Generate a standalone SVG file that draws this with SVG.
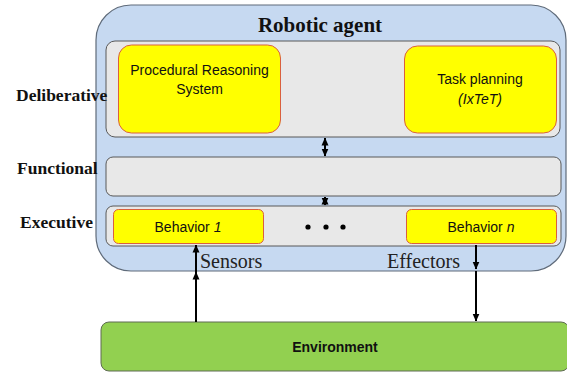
<svg xmlns="http://www.w3.org/2000/svg" width="567" height="374" viewBox="0 0 567 374">
  <defs>
    <marker id="tip" viewBox="0 0 8 8" refX="7.5" refY="4" markerWidth="8" markerHeight="8" markerUnits="userSpaceOnUse" orient="auto-start-reverse">
      <path d="M0,0.5 L8,4 L0,7.5 Z" fill="#000"/>
    </marker>
    <style>
      .agent { fill: #c6d9f1; stroke: #5f6b7a; stroke-width: 1.2; }
      .layer { fill: #e8e8e8; stroke: #595959; stroke-width: 1; }
      .comp { fill: #ffff00; stroke: #d9603f; stroke-width: 1; }
      .env { fill: #92d050; stroke: #5e6b52; stroke-width: 1; }
      .layername { font-family: "Liberation Serif", "Times New Roman", serif; font-weight: bold; font-size: 17.5px; fill: #111; }
      .title { font-family: "Liberation Serif", "Times New Roman", serif; font-weight: bold; font-size: 21px; fill: #111; }
      .io { font-family: "Liberation Serif", "Times New Roman", serif; font-size: 20px; fill: #222; }
      .lbl { font-family: "Liberation Sans", Arial, sans-serif; font-size: 14px; fill: #111; text-anchor: middle; }
      .link { stroke: #000; stroke-width: 2; fill: none; }
    </style>
  </defs>

  <rect width="567" height="374" fill="#ffffff"/>

  <!-- robot container -->
  <g id="robotic-agent">
    <rect class="agent" x="96" y="5" width="470" height="266" rx="35" ry="35"/>
    <text class="title" x="320" y="32" text-anchor="middle">Robotic agent</text>
  </g>

  <!-- deliberative layer -->
  <g id="deliberative">
    <rect class="layer" x="106" y="41" width="454" height="96" rx="9"/>
    <text class="layername" x="16" y="101">Deliberative</text>
  </g>
  <g id="prs">
    <rect class="comp" x="118.5" y="45" width="162" height="88" rx="13"/>
    <text class="lbl" x="199.5" y="75">Procedural Reasoning</text>
    <text class="lbl" x="199.5" y="94">System</text>
  </g>
  <g id="task-planning">
    <rect class="comp" x="404.5" y="46" width="152" height="87" rx="13"/>
    <text class="lbl" x="480" y="84">Task planning</text>
    <text class="lbl" x="480" y="104" font-style="italic">(IxTeT)</text>
  </g>

  <!-- functional layer -->
  <g id="functional">
    <rect class="layer" x="106" y="157" width="455" height="39" rx="7"/>
    <text class="layername" x="17" y="174">Functional</text>
  </g>

  <!-- executive layer -->
  <g id="executive">
    <rect class="layer" x="106" y="206" width="455" height="40" rx="7"/>
    <text class="layername" x="20" y="228">Executive</text>
    <circle cx="308" cy="227" r="2.6" fill="#000"/>
    <circle cx="326" cy="227" r="2.6" fill="#000"/>
    <circle cx="343" cy="227" r="2.6" fill="#000"/>
  </g>
  <g id="behavior-1">
    <rect class="comp" x="113.5" y="209.5" width="150" height="34" rx="5"/>
    <text class="lbl" x="188" y="232">Behavior <tspan font-style="italic">1</tspan></text>
  </g>
  <g id="behavior-n">
    <rect class="comp" x="406.5" y="209.5" width="150" height="34" rx="5"/>
    <text class="lbl" x="481" y="232">Behavior <tspan font-style="italic">n</tspan></text>
  </g>

  <!-- environment -->
  <g id="environment">
    <rect class="env" x="101" y="322" width="468" height="49" rx="8"/>
    <text class="lbl" x="335" y="352" font-weight="bold">Environment</text>
  </g>

  <!-- connectors -->
  <g id="connectors">
    <line class="link" x1="325" y1="138" x2="325" y2="156" marker-start="url(#tip)" marker-end="url(#tip)"/>
    <line class="link" x1="325" y1="197" x2="325" y2="205" marker-start="url(#tip)" marker-end="url(#tip)"/>
    <line class="link" x1="196" y1="322" x2="196" y2="272" marker-end="url(#tip)"/>
    <line class="link" x1="196" y1="272" x2="196" y2="245" marker-end="url(#tip)"/>
    <line class="link" x1="476" y1="245" x2="476" y2="269" marker-end="url(#tip)"/>
    <line class="link" x1="476" y1="271" x2="476" y2="321" marker-end="url(#tip)"/>
    <text class="io" x="200" y="268">Sensors</text>
    <text class="io" x="387" y="268">Effectors</text>
  </g>
</svg>
